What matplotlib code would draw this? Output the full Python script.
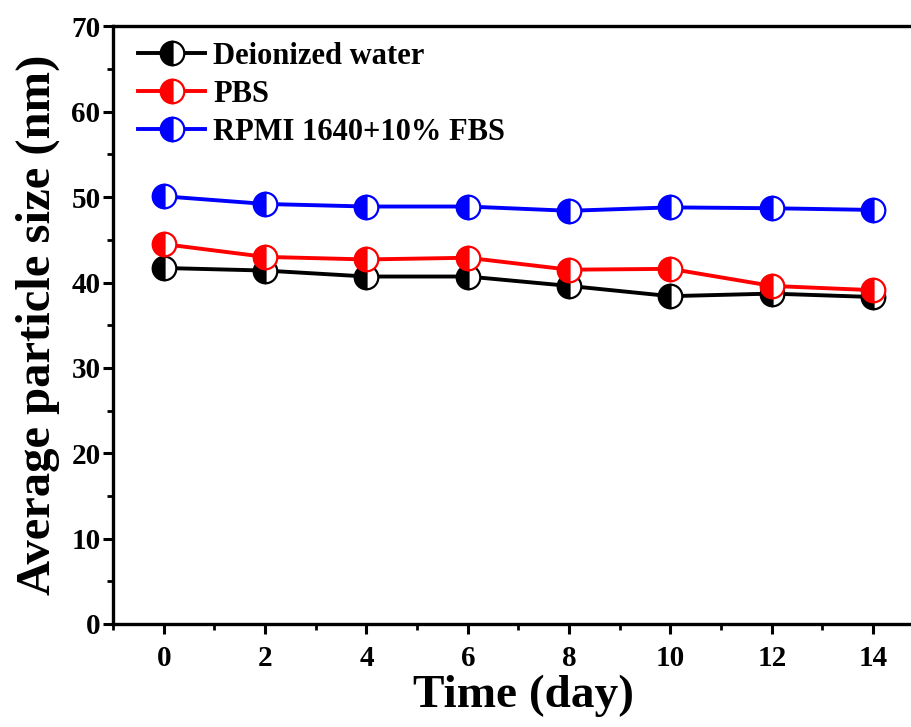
import matplotlib
matplotlib.use("Agg")
import matplotlib.pyplot as plt
from matplotlib.ticker import MultipleLocator

# data
days = [0, 2, 4, 6, 8, 10, 12, 14]
water = [41.7, 41.4, 40.7, 40.7, 39.6, 38.4, 38.7, 38.3]
pbs = [44.5, 43.0, 42.7, 42.9, 41.5, 41.6, 39.6, 39.1]
rpmi = [50.1, 49.2, 48.9, 48.9, 48.4, 48.8, 48.7, 48.5]

series = [
    ("Deionized water", water, "black"),
    ("PBS", pbs, "red"),
    ("RPMI 1640+10% FBS", rpmi, "blue"),
]

plt.rcParams["font.family"] = ["Liberation Serif", "DejaVu Serif"]
plt.rcParams["font.weight"] = "bold"

fig = plt.figure(figsize=(9.12, 7.27), dpi=100)
# right spine sits just outside the picture, as in the cropped original
ax = fig.add_axes([0.124, 0.1417, 0.90, 0.822])

for label, vals, col in series:
    ax.plot(days, vals, color=col, linewidth=2.8, marker="o", markersize=17,
            fillstyle="left", markerfacecolor=col, markerfacecoloralt="white",
            markeredgecolor=col, markeredgewidth=1.6, label=label)

ax.set_xlim(-1, 15.2)
ax.set_ylim(0, 70)
ax.xaxis.set_major_locator(MultipleLocator(2))
ax.xaxis.set_minor_locator(MultipleLocator(1))
ax.yaxis.set_major_locator(MultipleLocator(10))
ax.yaxis.set_minor_locator(MultipleLocator(5))

for s in ax.spines.values():
    s.set_linewidth(2.4)
ax.tick_params(which="major", direction="out", length=7, width=2.2,
               labelsize=21, pad=8)
ax.tick_params(which="minor", direction="out", length=4, width=2.0)
ax.tick_params(axis="y", which="major", pad=2)
for t in ax.get_xticklabels() + ax.get_yticklabels():
    t.set_fontweight("bold")

ax.set_xlabel("Time (day)", fontsize=34, fontweight="bold", labelpad=2)
ax.set_ylabel("Average particle size (nm)", fontsize=35, fontweight="bold",
              labelpad=8)

ax.legend(loc="upper left", bbox_to_anchor=(0.012, 1.0), frameon=False,
          handlelength=2.2, handletextpad=0.25, labelspacing=0.3,
          borderaxespad=0.1, borderpad=0.4,
          prop={"weight": "bold", "size": 22})

fig.savefig("out.png", dpi=100)
